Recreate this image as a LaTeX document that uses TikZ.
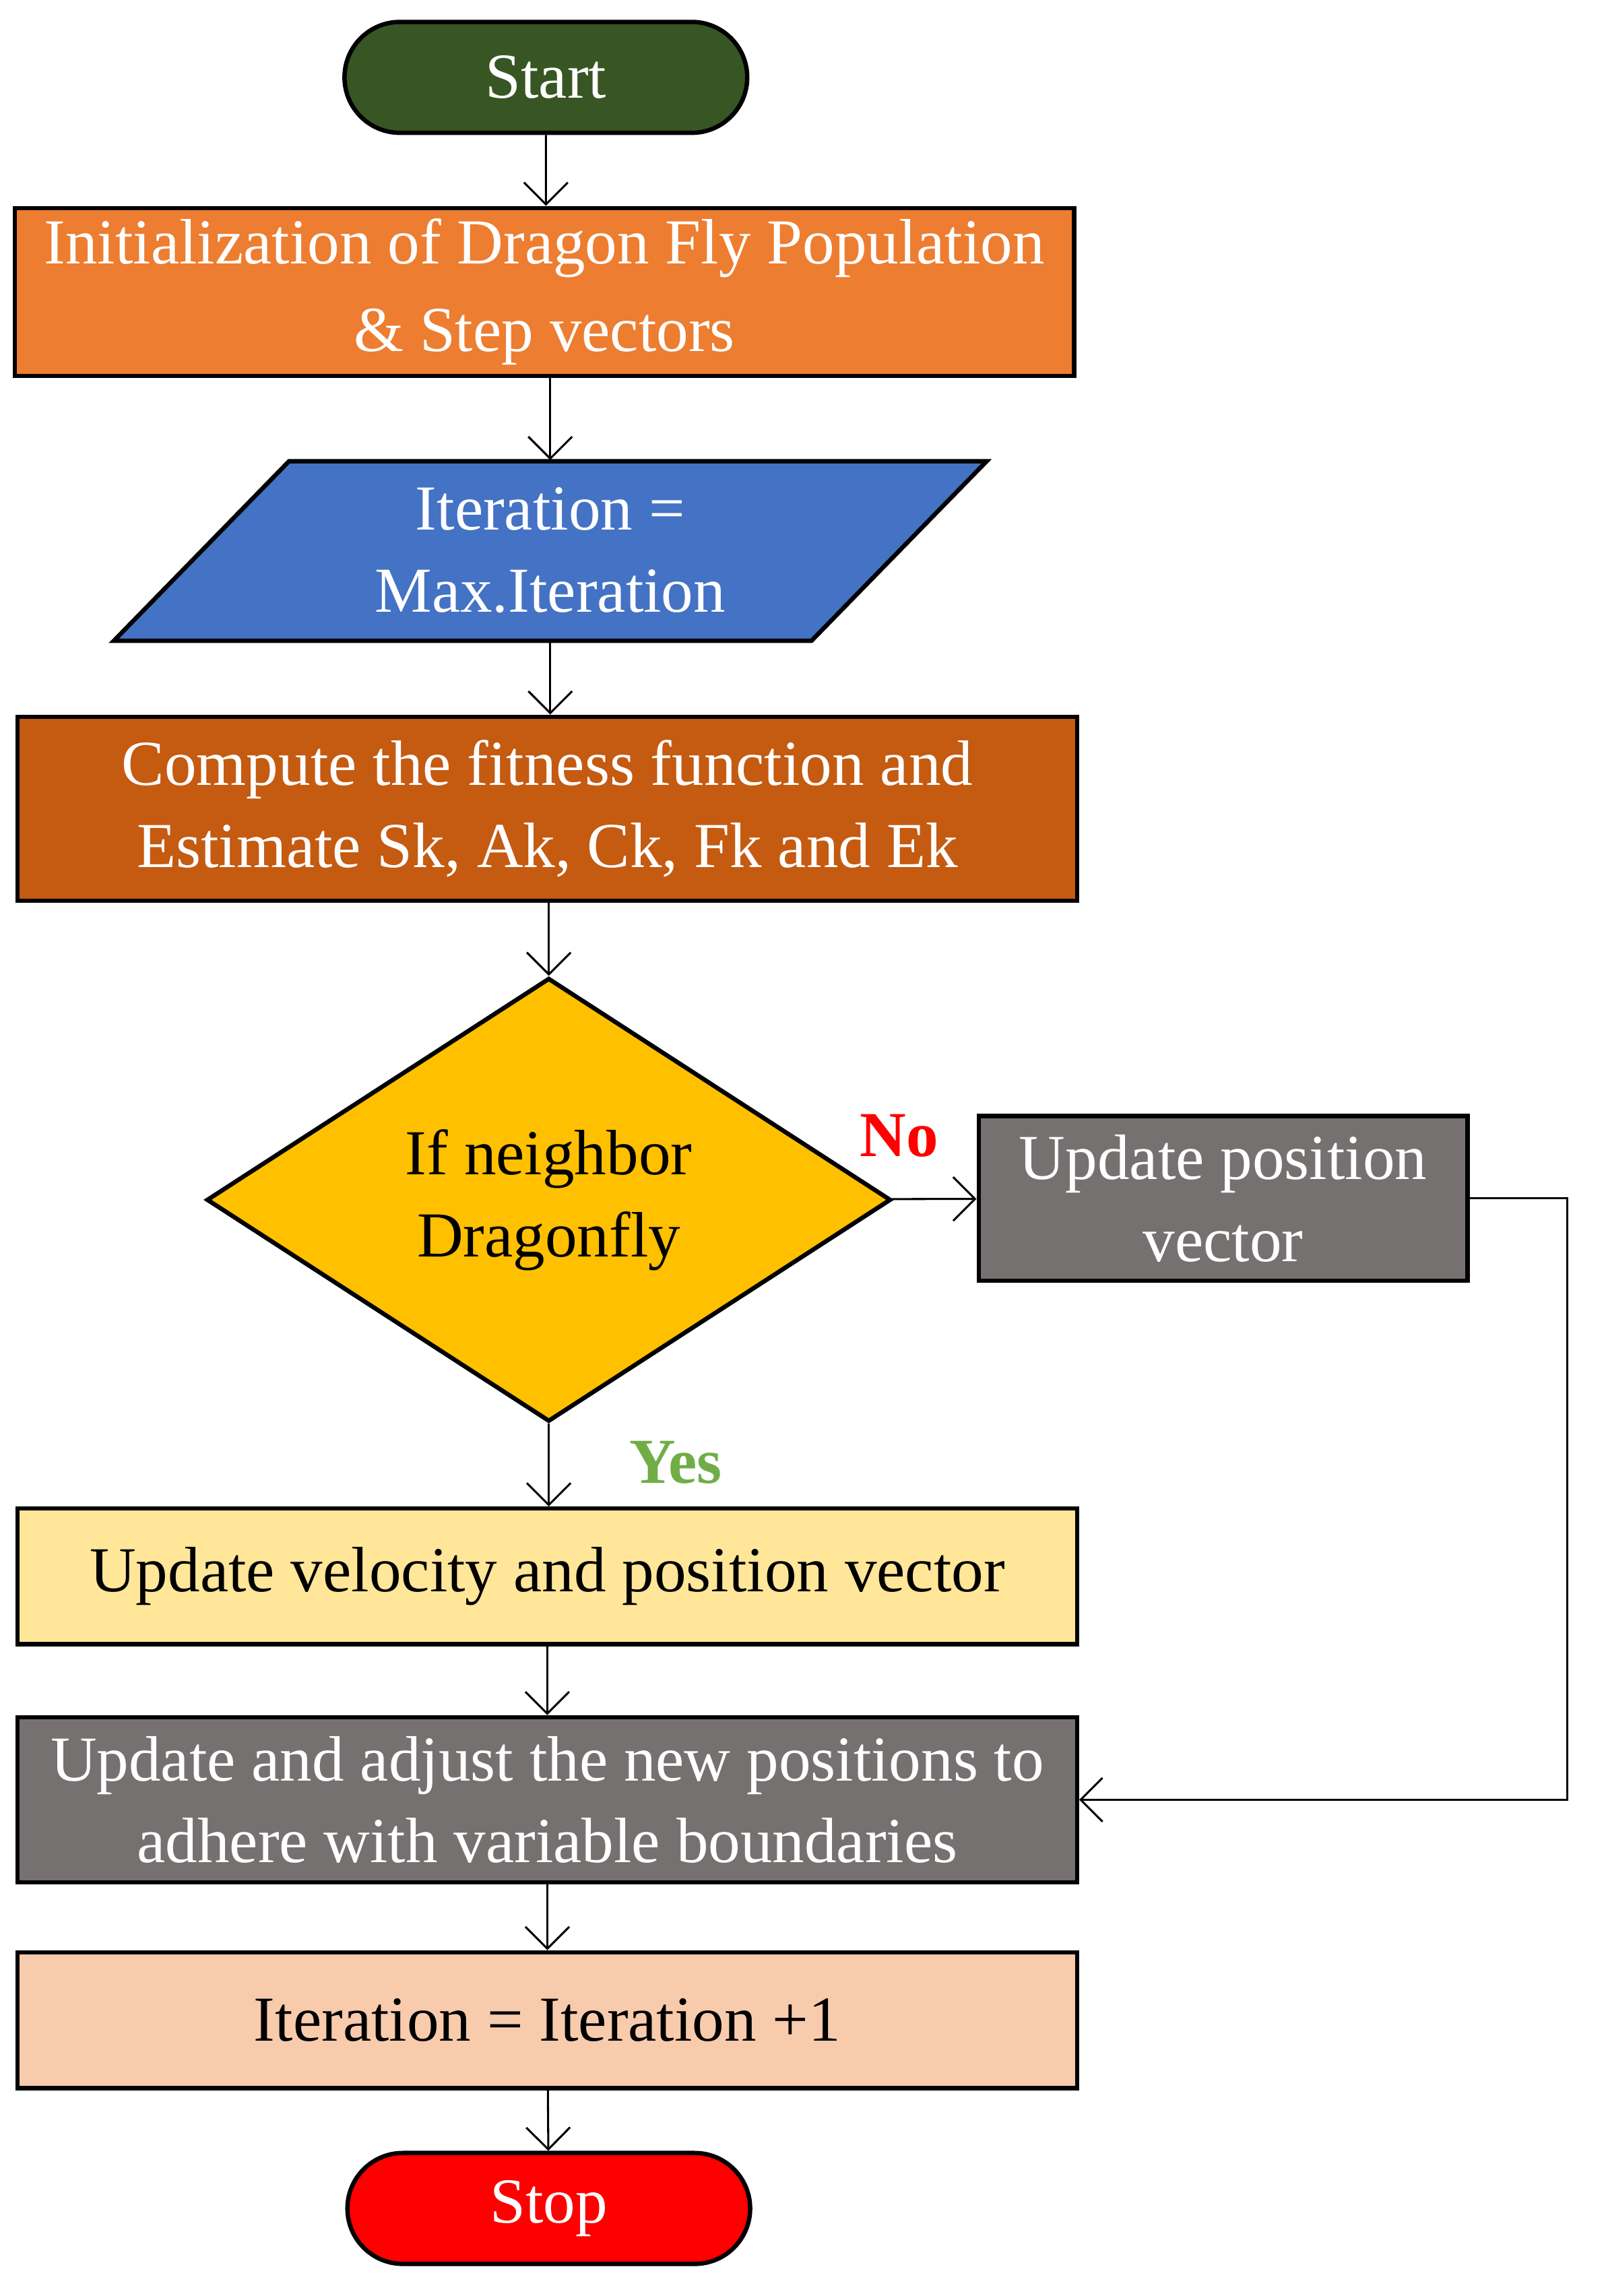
\documentclass[tikz,border=0pt]{standalone}
\usepackage{fontspec}
\setmainfont{Liberation Serif}
\usetikzlibrary{shapes.geometric,shapes.misc,arrows.meta}
\definecolor{startgreen}{HTML}{375623}
\definecolor{initorange}{HTML}{ED7D31}
\definecolor{iterblue}{HTML}{4472C4}
\definecolor{computebrown}{HTML}{C55A11}
\definecolor{decgold}{HTML}{FFC000}
\definecolor{boxgray}{HTML}{767171}
\definecolor{velyellow}{HTML}{FFE699}
\definecolor{incpeach}{HTML}{F8CBAD}
\definecolor{yesgreen}{HTML}{70AD47}
\tikzset{
  box/.style={draw=black, line width=1.7pt, rectangle, inner sep=0pt, align=center,
    font=\fontsize{25}{32}\selectfont},
  term/.style={box, rounded rectangle, minimum width=5.52cm, minimum height=1.52cm},
  flow/.style={-{Straight Barb[length=3mm,width=6mm]}, line width=0.8pt}
}
\begin{document}
\begin{tikzpicture}[x=0.02cm, y=-0.02cm]
\useasboundingbox (0,0) rectangle (1100,1573);

\node[term, fill=startgreen, text=white] (start) at (374,53) {Start};
\node[box, fill=initorange, text=white, minimum width=14.52cm, minimum height=2.3cm] (init) at (373,200)
  {Initialization of Dragon Fly Population\\[2pt]\& Step vectors};

\draw[line width=1.7pt, fill=iterblue] (78,439) -- (198,316) -- (676,316) -- (556,439) -- cycle;
\node[align=center, text=white, font=\fontsize{25}{32}\selectfont, minimum height=2.46cm] (iter) at (377,377)
  {Iteration =\\Max.Iteration};

\node[box, fill=computebrown, text=white, minimum width=14.52cm, minimum height=2.52cm] (comp) at (375,554)
  {Compute the fitness function and\\Estimate Sk, Ak, Ck, Fk and Ek};

% decision
\node[box, diamond, fill=decgold, minimum width=9.38cm, minimum height=6.08cm, shape aspect=1.54] (dec) at (376,822)
  {If neighbor\\Dragonfly};
\node[box, fill=boxgray, text=white, minimum width=6.7cm, minimum height=2.26cm] (upos) at (838,821)
  {Update position\\vector};

\node[box, fill=velyellow, minimum width=14.52cm, minimum height=1.86cm] (vel) at (375,1080)
  {Update velocity and position vector};
\node[box, fill=boxgray, text=white, minimum width=14.52cm, minimum height=2.26cm] (adj) at (375,1233)
  {Update and adjust the new positions to\\adhere with variable boundaries};
\node[box, fill=incpeach, minimum width=14.52cm, minimum height=1.86cm] (inc) at (375,1384)
  {Iteration = Iteration +1};
\node[term, fill=red, text=white] (stop) at (376,1513) {Stop};

\node[text=red, font=\bfseries\fontsize{25}{30}\selectfont] (no) at (616,778) {No};
\node[text=yesgreen, font=\bfseries\fontsize{25}{30}\selectfont] (yes) at (463,1002) {Yes};

\draw[flow] (start) -- (start |- init.north);
\draw[flow] (init.south -| iter) -- (iter);
\draw[flow] (iter) -- (iter |- comp.north);
\draw[flow] (comp.south -| dec) -- (dec);
\draw[flow] (dec) -- (upos);
\draw[flow] (dec) -- (dec |- vel.north);
\draw[flow] (vel) -- (adj);
\draw[flow] (adj) -- (inc);
\draw[flow] (inc) -- (stop);
\coordinate (loop) at (1074,1233);
\draw[flow] (upos.east) -| (loop) -- (adj.east);
\end{tikzpicture}
\end{document}
